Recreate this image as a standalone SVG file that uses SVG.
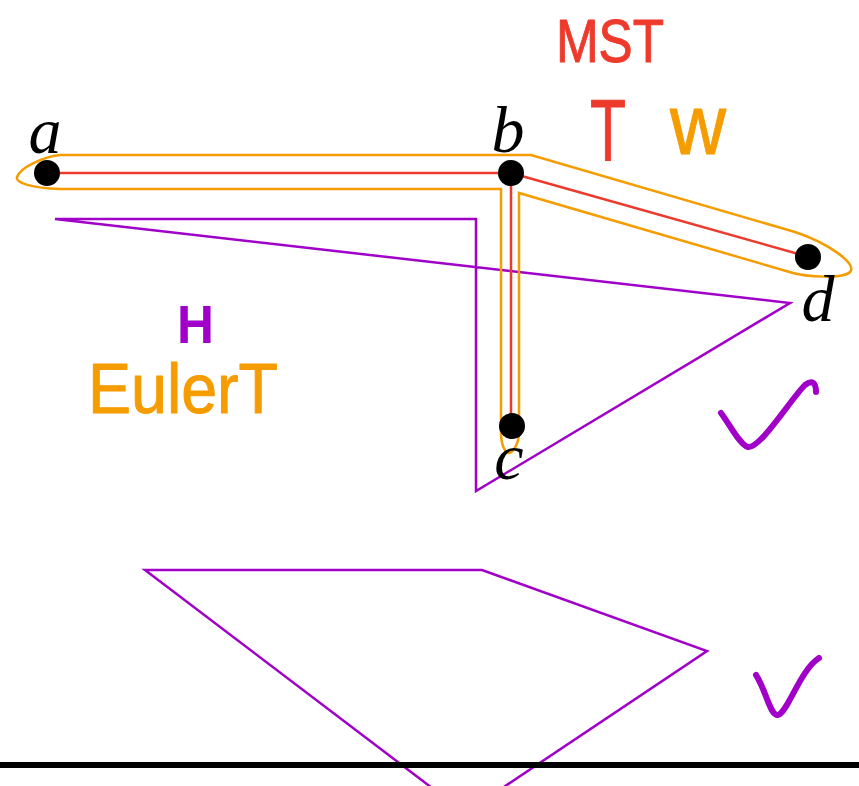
<svg xmlns="http://www.w3.org/2000/svg" width="859" height="786" viewBox="0 0 859 786">
<style>
.lbl{font-family:"Liberation Serif",serif;font-style:italic;font-size:66px;fill:#000;text-anchor:middle}
.hand{font-family:"Liberation Sans","DejaVu Sans",sans-serif;stroke-linejoin:round;stroke-linecap:round}
.red{stroke:#ee3a2c;fill:none;stroke-width:2.5}
.org{stroke:#f59c00;fill:none;stroke-width:2.5}
.pur{stroke:#a000c8;fill:none;stroke-width:2.5}
.chk{stroke:#a000c8;fill:none;stroke-width:6;stroke-linecap:round;stroke-linejoin:round}
</style>
<rect width="859" height="786" fill="#fff"/>
<g id="connectors">
<path class="pur" d="M55 219 L476 219 L476 491 L790 303 Z"/>
<path class="org" d="M60 155 L531 155 L795 232 C828 243 858 264 850 272 C843 279 808 277 793 273 L519 193 L519 432 C519 445 512 453 509 453 C505 453 501 445 501 432 L501 189 L60 189 C32 188 15 183 17 177 C20 168 42 157 60 155 Z"/>
<path class="red" d="M47 173 L511 173 L511 427 M511 173 L809 257"/>
<path class="pur" d="M145 570 L482 570 L707 651 L465 813 Z"/>
</g>
<g id="node-a"><circle cx="47" cy="173" r="13" fill="#000"/><text class="lbl" x="45" y="153">a</text></g>
<g id="node-b"><circle cx="511" cy="173" r="13" fill="#000"/><text class="lbl" x="508" y="152">b</text></g>
<g id="node-c"><circle cx="512" cy="426" r="13" fill="#000"/><text class="lbl" x="509" y="479">c</text></g>
<g id="node-d"><circle cx="808" cy="257" r="13" fill="#000"/><text class="lbl" x="818" y="321">d</text></g>
<g id="annotations">
<text class="hand" x="556" y="62" font-size="62" fill="#ee3a2c" stroke="#ee3a2c" stroke-width="1" textLength="108" lengthAdjust="spacingAndGlyphs">MST</text>
<text class="hand" x="590" y="160" font-size="88" fill="#ee3a2c" stroke="#ee3a2c" stroke-width="1" textLength="36" lengthAdjust="spacingAndGlyphs">T</text>
<text class="hand" x="670" y="154" font-size="86" fill="#f59c00" stroke="#f59c00" stroke-width="1" textLength="56" lengthAdjust="spacingAndGlyphs">w</text>
<text class="hand" x="177" y="343" font-size="54" font-weight="bold" fill="#a000c8" textLength="37" lengthAdjust="spacingAndGlyphs">H</text>
<text class="hand" x="88" y="413" font-size="70" fill="#f59c00" stroke="#f59c00" stroke-width="1" textLength="190" lengthAdjust="spacingAndGlyphs">EulerT</text>
<path class="chk" d="M721 413 C730 425 740 445 748 447 C760 449 790 400 805 385 C812 380 816 382 816 392"/>
<path class="chk" d="M756 675 C766 690 770 716 778 715 C788 712 800 670 819 658" stroke-width="4.5"/>
</g>
<line x1="0" y1="765" x2="859" y2="765" stroke="#000" stroke-width="6"/>
</svg>
